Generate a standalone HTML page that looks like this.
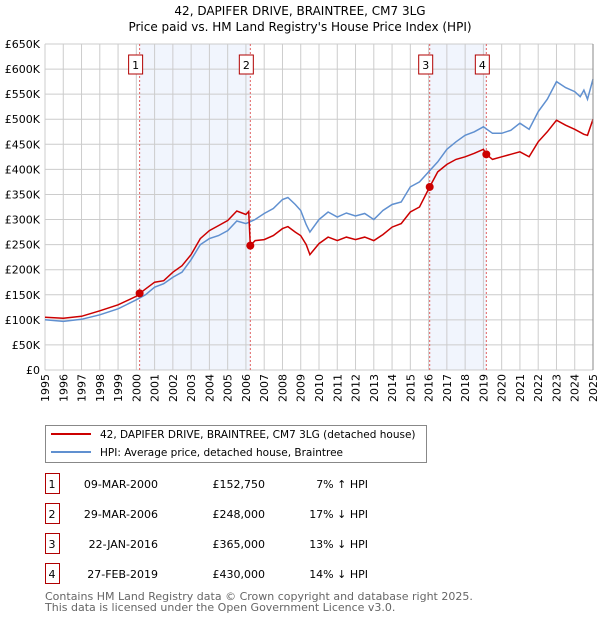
<!DOCTYPE html>
<html><head><meta charset="utf-8"><style>
body{margin:0;background:#fff;font-family:"DejaVu Sans","Liberation Sans",sans-serif;}
svg text{font-family:"DejaVu Sans","Liberation Sans",sans-serif;}
</style></head><body>
<svg id="chart" width="600" height="620" xmlns="http://www.w3.org/2000/svg">
<text x="300" y="15" text-anchor="middle" font-size="12">42, DAPIFER DRIVE, BRAINTREE, CM7 3LG</text>
<text x="300" y="31" text-anchor="middle" font-size="12">Price paid vs. HM Land Registry's House Price Index (HPI)</text>
<g id="plot"></g>
<g>
<rect x="45.5" y="425.5" width="381" height="37" fill="#fff" stroke="#888"/>
<line x1="51" y1="434" x2="91" y2="434" stroke="#cc0000" stroke-width="2"/>
<text x="100" y="438" font-size="10.5">42, DAPIFER DRIVE, BRAINTREE, CM7 3LG (detached house)</text>
<line x1="51" y1="452" x2="91" y2="452" stroke="#6090d0" stroke-width="2"/>
<text x="100" y="456" font-size="10.5">HPI: Average price, detached house, Braintree</text>
</g>
<g id="table"></g>
<text x="45" y="600" font-size="11" fill="#666">Contains HM Land Registry data © Crown copyright and database right 2025.</text>
<text x="45" y="611" font-size="11" fill="#666">This data is licensed under the Open Government Licence v3.0.</text>
</svg>
<script>
const hpiYears=[1995,1996,1997,1998,1999,2000,2000.5,2001,2001.5,2002,2002.5,2003,2003.5,2004,2004.5,2005,2005.5,2006,2006.5,2007,2007.5,2008,2008.3,2008.7,2009,2009.3,2009.5,2010,2010.5,2011,2011.5,2012,2012.5,2013,2013.5,2014,2014.5,2015,2015.5,2016,2016.5,2017,2017.5,2018,2018.5,2019,2019.5,2020,2020.5,2021,2021.5,2022,2022.5,2023,2023.5,2024,2024.3,2024.5,2024.7,2025];
const hpiValues=[100,97,101,110,122,140,150,165,172,185,195,220,250,262,268,278,297,292,300,312,322,340,344,330,318,290,275,300,315,305,313,307,312,300,318,330,335,365,375,395,415,440,455,468,475,485,472,472,478,492,480,515,540,575,563,555,545,558,540,580];
const redYears=[1995,1996,1997,1998,1999,2000,2000.18,2001,2001.5,2002,2002.5,2003,2003.5,2004,2004.5,2005,2005.5,2006,2006.15,2006.24,2006.5,2007,2007.5,2008,2008.3,2008.7,2009,2009.3,2009.5,2010,2010.5,2011,2011.5,2012,2012.5,2013,2013.5,2014,2014.5,2015,2015.5,2016.06,2016.5,2017,2017.5,2018,2018.5,2019,2019.16,2019.5,2020,2020.5,2021,2021.5,2022,2022.5,2023,2023.5,2024,2024.5,2024.7,2025];
const redValues=[105,103,107,118,130,147,152.75,175,178,195,208,230,262,278,288,298,317,310,316,248,258,260,268,282,286,275,268,250,230,252,265,258,265,260,265,258,270,285,292,315,325,365,395,410,420,425,432,440,430,420,425,430,435,425,455,475,498,488,480,470,468,500];
const saleLabels=["1","2","3","4"];
const saleYears=[2000.18,2006.24,2016.06,2019.16];
const salePrices=[152750,248000,365000,430000];
const saleDates=["09-MAR-2000","29-MAR-2006","22-JAN-2016","27-FEB-2019"];
const salePriceText=["£152,750","£248,000","£365,000","£430,000"];
const saleHpiText=["7% ↑ HPI","17% ↓ HPI","13% ↓ HPI","14% ↓ HPI"];
const yTicks=[0,50,100,150,200,250,300,350,400,450,500,550,600,650];
const yTickLabels=["£0","£50K","£100K","£150K","£200K","£250K","£300K","£350K","£400K","£450K","£500K","£550K","£600K","£650K"];
const xTicks=[];for(let y=1995;y<=2025;y++)xTicks.push(y);

const X0=45,X1=593,Y0=370,Y1=44;
const xs=y=>X0+(y-1995)/30*(X1-X0);
const ys=v=>Y0-v/650*(Y0-Y1);
const NS="http://www.w3.org/2000/svg";
const plot=document.getElementById('plot');
function mk(tag,attrs,parent){const e=document.createElementNS(NS,tag);for(const k in attrs)e.setAttribute(k,attrs[k]);(parent||plot).appendChild(e);return e;}

for(const [a,b] of [[0,1],[2,3]]){
 const r=mk('rect',{x:xs(saleYears[a]),y:Y1,width:xs(saleYears[b])-xs(saleYears[a]),height:Y0-Y1,fill:'#eef3fc',opacity:0.8});
 
 
}
xTicks.forEach((t,i)=>{
 const l=mk('line',{x1:xs(t),x2:xs(t),y1:Y1,y2:Y0,stroke:'#ccc','stroke-width':1});
 
 
 const px=xs(t)+4,py=Y0+4;
 const tx=mk('text',{x:px,y:py,'font-size':11,'text-anchor':'end',transform:'rotate(-90 '+px+' '+py+')'});
 tx.textContent=t;
 
 
});
yTicks.forEach((t,i)=>{
 const l=mk('line',{x1:X0,x2:X1,y1:ys(t),y2:ys(t),stroke:'#ccc','stroke-width':1});
 
 
 const tx=mk('text',{x:40,y:ys(t)+4,'font-size':11,'text-anchor':'end'});
 tx.textContent=yTickLabels[i];
 
 
});
saleYears.forEach((y,i)=>{
 const l=mk('line',{x1:xs(y),x2:xs(y),y1:Y1,y2:Y0,stroke:'#e06060','stroke-width':1,'stroke-dasharray':'2,2'});
 
 
 const bx=xs(y)-4;
 const r=mk('rect',{x:bx-7,y:55,width:14,height:19,fill:'#fff',stroke:'#b00000'});
 
 
 const t=mk('text',{x:bx,y:69,'font-size':11,'text-anchor':'middle'});
 t.textContent=saleLabels[i];
 
 
});
function line(xa,va,color,name){
 const d=xa.map((x,i)=>(i?'L':'M')+xs(x).toFixed(1)+','+ys(va[i]).toFixed(1)).join('');
 const p=mk('path',{d,fill:'none',stroke:color,'stroke-width':1.5});
 
 
}
line(hpiYears,hpiValues,'#6090d0','hpi-line');
line(redYears,redValues,'#cc0000','price-paid-line');
saleYears.forEach((y,i)=>{
 const c=mk('circle',{cx:xs(y),cy:ys(salePrices[i]/1000),r:4,fill:'#cc0000'});
 
 
});
mk('line',{x1:X1,x2:X1,y1:Y1,y2:Y0,stroke:'#888'});
const tb=document.getElementById('table');
saleLabels.forEach((s,i)=>{
 const cy=484+i*30;
 const r=mk('rect',{x:45.5,y:cy-10.5,width:14,height:20,fill:'#fff',stroke:'#b00000'},tb);
 
 
 const cells=[[52,'middle',s],[158,'end',saleDates[i]],[265,'end',salePriceText[i]],[368,'end',saleHpiText[i]]];
 cells.forEach(([x,a,txt],j)=>{
  const t=mk('text',{x,y:cy+4,'font-size':11,'text-anchor':a},tb);
  t.textContent=txt;
  
  
 });
});
</script>
</body></html>
